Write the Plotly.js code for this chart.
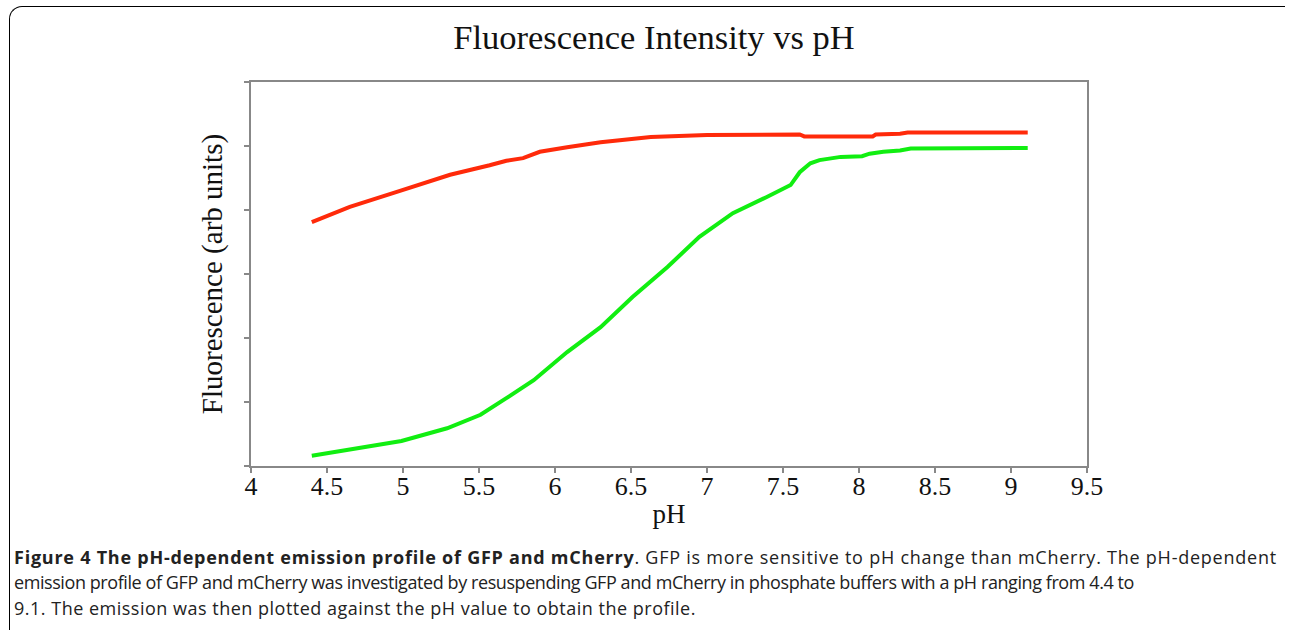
<!DOCTYPE html>
<html>
<head>
<meta charset="utf-8">
<script src="https://cdn.plot.ly/plotly-3.0.1.min.js"></script>
<style>
  html, body { margin: 0; padding: 0; background: #fff; }
  #wrap { position: relative; width: 1290px; height: 630px; overflow: hidden; }
  #frame { position: absolute; left: 9px; top: 6px; width: 1276px; height: 700px;
           border-top: 1.5px solid #000; border-left: 1.5px solid #000;
           border-top-left-radius: 13px; box-sizing: border-box; pointer-events: none; }
  #chart { position: absolute; left: 0; top: 0; width: 1290px; height: 630px; }
  .cap { position: absolute; left: 14px; white-space: nowrap;
         font-family: 'Open Sans', 'Noto Sans', sans-serif; font-size: 18px; color: #222;
         line-height: 22px; }
  #cap1 { top: 546px; letter-spacing: 0.76px; }
  #cap2 { top: 571px; letter-spacing: -0.42px; }
  #cap3 { top: 597px; letter-spacing: 0.5px; }
</style>
</head>
<body>
<div id="wrap">
  <div id="chart"></div>
  <div id="frame"></div>
  <div class="cap" id="cap1"></div>
  <div class="cap" id="cap2"></div>
  <div class="cap" id="cap3"></div>
</div>
<script>
// mCherry (red) series
const phRed = [4.40, 4.65, 4.98, 5.31, 5.57, 5.68, 5.79, 5.90, 6.08, 6.30, 6.63, 7.00, 7.61, 7.64, 8.09, 8.11, 8.27, 8.32, 9.11];
const redVals = [3.81, 4.05, 4.30, 4.55, 4.70, 4.77, 4.81, 4.91, 4.98, 5.06, 5.14, 5.17, 5.18, 5.15, 5.15, 5.18, 5.19, 5.21, 5.21];

// GFP (green) series
const phGreen = [4.40, 4.99, 5.29, 5.51, 5.68, 5.86, 6.08, 6.30, 6.51, 6.74, 6.95, 7.17, 7.39, 7.55, 7.61, 7.68, 7.74, 7.88, 8.02, 8.07, 8.16, 8.27, 8.34, 9.11];
const greenVals = [0.16, 0.39, 0.59, 0.80, 1.06, 1.34, 1.78, 2.17, 2.64, 3.11, 3.58, 3.95, 4.20, 4.39, 4.59, 4.73, 4.78, 4.83, 4.84, 4.88, 4.91, 4.93, 4.96, 4.97];

const xTicks = [4, 4.5, 5, 5.5, 6, 6.5, 7, 7.5, 8, 8.5, 9, 9.5];
const xTickLabels = ['4', '4.5', '5', '5.5', '6', '6.5', '7', '7.5', '8', '8.5', '9', '9.5'];

const chartTitle = 'Fluorescence Intensity vs pH';
const xTitle = 'pH';
const yTitle = 'Fluorescence (arb units)';
const captionBold = 'Figure 4 The pH-dependent emission profile of GFP and mCherry';
const captionLines = [
  '. GFP is more sensitive to pH change than mCherry. The pH-dependent',
  'emission profile of GFP and mCherry was investigated by resuspending GFP and mCherry in phosphate buffers with a pH ranging from 4.4 to',
  '9.1. The emission was then plotted against the pH value to obtain the profile.'
];

const cap1 = document.getElementById('cap1');
const b = document.createElement('b'); b.textContent = captionBold;
cap1.appendChild(b); cap1.appendChild(document.createTextNode(captionLines[0]));
document.getElementById('cap2').textContent = captionLines[1];
document.getElementById('cap3').textContent = captionLines[2];

const serif = 'Liberation Serif, Times New Roman, serif';
const L = 251, R = 1087, T = 82, B = 466;

const traces = [
  { x: phRed, y: redVals, mode: 'lines', name: 'mCherry',
    line: { color: '#ff2a0a', width: 4 }, hoverinfo: 'x+y' },
  { x: phGreen, y: greenVals, mode: 'lines', name: 'GFP',
    line: { color: '#11ee11', width: 4 }, hoverinfo: 'x+y' }
];

const layout = {
  width: 1290, height: 630,
  margin: { l: L, r: 1290 - R, t: T, b: 630 - B, pad: 0 },
  paper_bgcolor: 'rgba(0,0,0,0)', plot_bgcolor: '#fff',
  showlegend: false,
  title: { text: chartTitle, xref: 'container', yref: 'container',
           x: 654 / 1290, y: 1 - 37 / 630, xanchor: 'center', yanchor: 'middle',
           font: { family: serif, size: 34.5, color: '#111' } },
  xaxis: {
    range: [4, 9.5], tickmode: 'array', tickvals: xTicks, ticktext: xTickLabels,
    ticks: 'outside', ticklen: 5, tickwidth: 1.5, tickcolor: '#888',
    showline: true, linecolor: '#888', linewidth: 2, mirror: true,
    showgrid: false, zeroline: false, ticklabelstandoff: -9,
    tickfont: { family: serif, size: 26, color: '#111' },
    title: { text: xTitle, standoff: 4, font: { family: serif, size: 27, color: '#111' } }
  },
  yaxis: {
    range: [0, 6], dtick: 1, tick0: 0,
    ticks: 'outside', ticklen: 5, tickwidth: 1.5, tickcolor: '#888',
    showline: true, linecolor: '#888', linewidth: 2, mirror: true,
    showgrid: false, zeroline: false, showticklabels: false,
    title: { text: yTitle, standoff: 13, font: { family: serif, size: 29, color: '#111' } }
  }
};

Plotly.newPlot('chart', traces, layout, { displayModeBar: false, staticPlot: true });
</script>
</body>
</html>
